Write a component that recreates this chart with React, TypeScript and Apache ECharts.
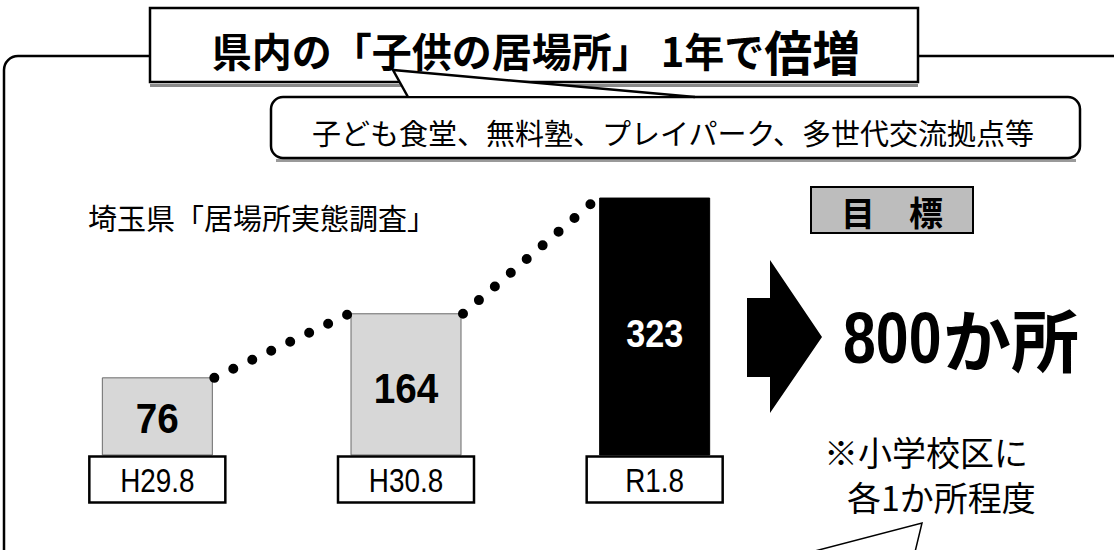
import React, { useEffect, useRef } from "react";
import * as echarts from "echarts";

// ---- data ----
const categories = ["H29.8", "H30.8", "R1.8"];
const counts = [76, 164, 323];
const titleMain = "県内の「子供の居場所」 1年で";
const titleEmph = "倍増";
const subtitle = "子ども食堂、無料塾、プレイパーク、多世代交流拠点等";
const sourceNote = "埼玉県「居場所実態調査」";
const targetLabel = "目　標";
const targetValue = "800";
const targetUnit = "か所";
const footNote = ["※小学校区に", "各1か所程度"];

// ---- style constants ----
const Y_MIN = -30;
const Y_MAX = 400;
const BAR_W = 110;
const BOX_W = 136;
const BOX_H = 46;
const CJK = "'Noto Sans CJK JP', 'Noto Sans CJK SC', sans-serif";
const LATIN = "'Liberation Sans', Arial, sans-serif";

export default function App() {
  const ref = useRef<HTMLDivElement>(null);

  useEffect(() => {
    if (!ref.current) return;
    const chart = echarts.init(ref.current, null, { renderer: "svg" });
    const last = counts.length - 1;

    const option: any = {
      animation: false,
      backgroundColor: "#ffffff",
      grid: { left: 33, right: 335, top: 142, bottom: 95 },
      xAxis: {
        type: "category",
        data: categories,
        axisLine: { show: false },
        axisTick: { show: false },
        splitLine: { show: false },
        axisLabel: { show: false },
      },
      yAxis: {
        type: "value",
        min: Y_MIN,
        max: Y_MAX,
        show: false,
        splitLine: { show: false },
      },
      series: [
        {
          type: "custom",
          z: 2,
          clip: false,
          data: counts.map((v, i) => [i, v]),
          encode: { x: 0, y: 1 },
          renderItem: (params: any, api: any) => {
            const i = api.value(0);
            const v = api.value(1);
            const top = api.coord([i, v]);
            const bottom = api.coord([i, Y_MIN]);
            const dark = i === last;
            const h = bottom[1] - top[1];
            return {
              type: "group",
              children: [
                {
                  type: "rect",
                  shape: { x: top[0] - BAR_W / 2, y: top[1], width: BAR_W, height: h },
                  style: {
                    fill: dark ? "#000" : "#d7d7d7",
                    stroke: dark ? "#000" : "#6a6a6a",
                    lineWidth: 1,
                  },
                },
                {
                  type: "text",
                  x: top[0],
                  y: bottom[1] - h * 0.47,
                  scaleX: 0.9,
                  style: {
                    text: String(v),
                    fill: dark ? "#fff" : "#000",
                    fontSize: dark ? 38 : 43,
                    fontWeight: "bold",
                    fontFamily: LATIN,
                    align: "center",
                    verticalAlign: "middle",
                  },
                },
                // category label box under the bar
                {
                  type: "rect",
                  shape: { x: top[0] - BOX_W / 2, y: bottom[1] + 1.5, width: BOX_W, height: BOX_H },
                  style: { fill: "#fff", stroke: "#000", lineWidth: 2.5 },
                },
                {
                  type: "text",
                  x: top[0],
                  y: bottom[1] + 1.5 + BOX_H / 2 + 1,
                  scaleX: 0.82,
                  style: {
                    text: categories[i],
                    fill: "#000",
                    fontSize: 34,
                    fontFamily: LATIN,
                    align: "center",
                    verticalAlign: "middle",
                  },
                },
              ],
            };
          },
        },
        {
          type: "custom",
          z: 3,
          clip: false,
          data: counts.slice(0, -1).map((v, i) => [i, v, counts[i + 1]]),
          encode: { x: 0, y: 1 },
          renderItem: (params: any, api: any) => {
            const i = api.value(0);
            const p1 = api.coord([i, api.value(1)]);
            const p2 = api.coord([i + 1, api.value(2)]);
            return {
              type: "line",
              shape: { x1: p1[0] + BAR_W / 2 + 2, y1: p1[1], x2: p2[0] - BAR_W / 2 - 2, y2: p2[1] },
              style: { stroke: "#000", lineWidth: 10, lineDash: [0, 21], lineCap: "round" },
            };
          },
        },
      ],
      graphic: [
        // outer frame
        { type: "rect", z: 0, shape: { x: 4, y: 56, width: 1300, height: 700, r: 14 }, style: { fill: "none", stroke: "#000", lineWidth: 2.5 } },
        // title box + shadow
        { type: "rect", z: 1, shape: { x: 150, y: 84, width: 768, height: 3 }, style: { fill: "#8a8a8a" } },
        { type: "rect", z: 1, shape: { x: 150, y: 8, width: 768, height: 74 }, style: { fill: "#fff", stroke: "#000", lineWidth: 2.5 } },
        // subtitle box + shadow
        { type: "rect", z: 1, shape: { x: 276, y: 159, width: 800, height: 3 }, style: { fill: "#9a9a9a" } },
        { type: "rect", z: 1, shape: { x: 271, y: 97, width: 809, height: 61, r: 12 }, style: { fill: "#fff", stroke: "#000", lineWidth: 2.5 } },
        // callout tail
        { type: "polygon", z: 2, shape: { points: [[393, 70], [408, 96], [695, 96]] }, style: { fill: "#fff" } },
        { type: "polyline", z: 2, shape: { points: [[408, 97], [393, 70], [695, 97]] }, style: { fill: "none", stroke: "#000", lineWidth: 2.5 } },
        // title text
        {
          type: "text", z: 3, x: 536, y: 50,
          style: {
            text: `{a|${titleMain}}{b|${titleEmph}}`,
            align: "center", verticalAlign: "middle",
            rich: {
              a: { fontSize: 40, fontWeight: "bold", fontFamily: CJK, fill: "#000" },
              b: { fontSize: 48, fontWeight: "bold", fontFamily: CJK, fill: "#000" },
            },
          },
        },
        // subtitle text
        { type: "text", z: 3, x: 673, y: 132, style: { text: subtitle, fontSize: 29, fontFamily: CJK, fill: "#000", align: "center", verticalAlign: "middle" } },
        // source note
        { type: "text", z: 3, x: 88, y: 217, style: { text: sourceNote, fontSize: 29, fontFamily: CJK, fill: "#000", align: "left", verticalAlign: "middle" } },
        // target box
        { type: "rect", z: 1, shape: { x: 811, y: 187, width: 162, height: 46 }, style: { fill: "#bdbdbd", stroke: "#000", lineWidth: 2 } },
        { type: "text", z: 3, x: 892, y: 211, style: { text: targetLabel, fontSize: 34, fontWeight: "bold", fontFamily: CJK, fill: "#000", align: "center", verticalAlign: "middle" } },
        // arrow
        { type: "polygon", z: 2, shape: { points: [[747, 298], [770, 298], [770, 260], [822, 337], [770, 413], [770, 377], [747, 377]] }, style: { fill: "#000" } },
        // target value
        { type: "text", z: 3, x: 843, y: 338, scaleX: 0.82, style: { text: targetValue, fontSize: 72, fontWeight: "bold", fontFamily: LATIN, fill: "#000", align: "left", verticalAlign: "middle" } },
        { type: "text", z: 3, x: 943, y: 337, style: { text: targetUnit, fontSize: 68, fontWeight: "bold", fontFamily: CJK, fill: "#000", align: "left", verticalAlign: "middle" } },
        // foot note
        { type: "text", z: 3, x: 824, y: 451, style: { text: footNote[0], fontSize: 34, fontFamily: CJK, fill: "#000", align: "left", verticalAlign: "middle" } },
        { type: "text", z: 3, x: 847, y: 496, style: { text: footNote[1], fontSize: 34, fontFamily: CJK, fill: "#000", align: "left", verticalAlign: "middle" } },
        // note tail
        { type: "polyline", z: 2, shape: { points: [[811, 552], [922, 523], [915, 552]] }, style: { fill: "none", stroke: "#000", lineWidth: 1.5 } },
      ],
    };

    chart.setOption(option);
    return () => chart.dispose();
  }, []);

  return (
    <div
      ref={ref}
      style={{ position: "absolute", left: 0, top: 0, width: 1114, height: 550 }}
    />
  );
}
